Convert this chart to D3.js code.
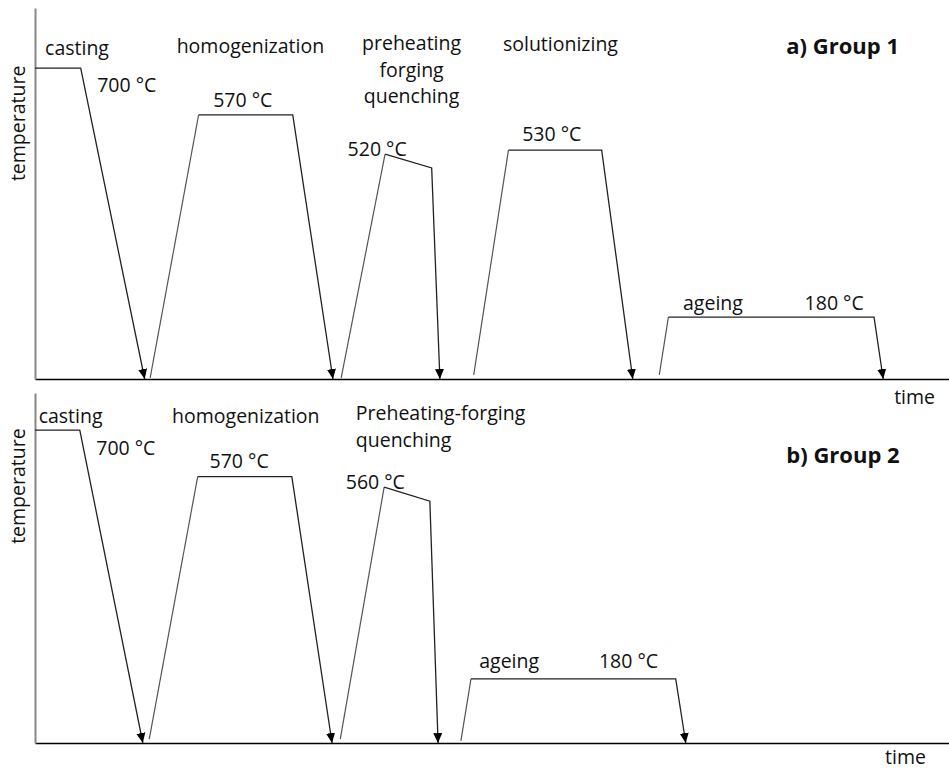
<!DOCTYPE html>
<html>
<head>
<meta charset="utf-8">
<script src="https://cdn.jsdelivr.net/npm/d3@7"></script>
<style>
  body { margin: 0; background: #fff; }
  svg text { font-family: "Open Sans", sans-serif; font-size: 19.5px; fill: #111; }
  .axis .domain { stroke-width: 1.6px; }
  .title { font-weight: bold; font-size: 22px; }
</style>
</head>
<body>
<div class="container"></div>
<script>
const w = 949;
const h = 771;

// process stages, time in arbitrary units (0-100), level = schematic height (0-100)
const g1Stages = ["casting", "homogenization", "preheating-forging-quenching", "solutionizing", "ageing"];
const g1Time = [
  [0, 5.0, 12.0],
  [12.6, 17.9, 28.2, 32.6],
  [33.5, 38.3, 43.4, 44.3],
  [48.0, 51.8, 62.0, 65.4],
  [68.3, 69.3, 91.8, 92.8]
];
const g1Level = [
  [83.8, 83.8, 0],
  [0.3, 71.2, 71.2, 0],
  [0.3, 60.6, 56.9, 0],
  [1.1, 61.7, 61.7, 0],
  [1.1, 16.7, 16.7, 0]
];

const g2Stages = ["casting", "homogenization", "Preheating-forging-quenching", "ageing"];
const g2Time = [
  [0, 4.9, 11.8],
  [12.5, 17.8, 28.1, 32.5],
  [33.4, 38.2, 43.2, 44.1],
  [46.6, 47.7, 70.1, 71.2]
];
const g2Level = [
  [89.4, 89.4, 0],
  [1.1, 76.1, 76.1, 0],
  [1.1, 73.1, 69.1, 0],
  [0.6, 18.3, 18.3, 0]
];

// annotation texts
const g1Labels = ["casting", "700 °C", "homogenization", "570 °C", "preheating", "forging", "quenching",
  "520 °C", "solutionizing", "530 °C", "ageing", "180 °C"];
const g2Labels = ["casting", "700 °C", "homogenization", "570 °C", "Preheating-forging", "quenching",
  "560 °C", "ageing", "180 °C"];
const titles = ["a) Group 1", "b) Group 2"];
const xTitle = "time";
const yTitle = "temperature";

// where the annotations sit, in the same time / level units
const g1LabelPos = [
  [1.1, 87.2, "start"], [6.8, 77.4, "start"], [15.5, 87.8, "start"], [19.5, 73.2, "start"],
  [41.2, 88.7, "middle"], [41.2, 81.5, "middle"], [41.2, 74.3, "middle"],
  [34.2, 60.1, "start"], [51.2, 88.4, "start"], [53.3, 64.2, "start"],
  [70.9, 18.6, "start"], [84.2, 18.6, "start"]
];
const g2LabelPos = [
  [0.4, 91.5, "start"], [6.7, 82.3, "start"], [15.0, 91.3, "start"], [19.1, 78.5, "start"],
  [35.1, 92.3, "start"], [35.1, 84.7, "start"],
  [34.0, 72.5, "start"], [48.6, 21.3, "start"], [61.7, 21.3, "start"]
];

const svg = d3.select('.container').append('svg')
  .attr('width', w)
  .attr('height', h);

svg.append('defs').append('marker')
  .attr('id', 'arrow')
  .attr('viewBox', '0 -5 10 10')
  .attr('refX', 10)
  .attr('refY', 0)
  .attr('markerUnits', 'userSpaceOnUse')
  .attr('markerWidth', 10)
  .attr('markerHeight', 10)
  .attr('orient', 'auto')
  .append('path')
  .attr('d', 'M0,-4.5L10,0L0,4.5Z')
  .attr('fill', '#000');

const x = d3.scaleLinear().domain([0, 100]).range([35, 949]);

const panels = [
  { time: g1Time, level: g1Level, labels: g1Labels, pos: g1LabelPos, title: titles[0],
    y: d3.scaleLinear().domain([0, 100]).range([379, 8]),
    titlePos: [82.2, 87.5], xTitlePos: [94.0, -6.7], yTitleLevel: 68.9 },
  { time: g2Time, level: g2Level, labels: g2Labels, pos: g2LabelPos, title: titles[1],
    y: d3.scaleLinear().domain([0, 100]).range([743, 393]),
    titlePos: [82.2, 79.9], xTitlePos: [93.0, -6.0], yTitleLevel: 73.4 }
];

panels.forEach(p => drawPanel(p));

function drawPanel(p) {
  const y = p.y;
  const g = svg.append('g');

  // axes without ticks
  g.append('g')
    .attr('class', 'axis')
    .attr('transform', `translate(0,${y(0)})`)
    .call(d3.axisBottom(x).tickValues([]).tickSizeOuter(0))
    .select('.domain').attr('stroke', '#000');

  g.append('g')
    .attr('class', 'axis')
    .attr('transform', `translate(${x(0)},0)`)
    .call(d3.axisLeft(y).tickValues([]).tickSizeOuter(0))
    .select('.domain').attr('stroke', '#888').style('stroke-width', '2px');

  const line = d3.line().x(d => x(d[0])).y(d => y(d[1]));

  p.time.forEach((ts, i) => {
    const pts = ts.map((t, j) => [t, p.level[i][j]]);
    let rest = pts;
    if (pts.length === 4) {
      g.append('path')
        .attr('d', line(pts.slice(0, 2)))
        .attr('fill', 'none')
        .attr('stroke', '#555')
        .attr('stroke-width', 1.2);
      rest = pts.slice(1);
    }
    g.append('path')
      .attr('d', line(rest))
      .attr('fill', 'none')
      .attr('stroke', '#222')
      .attr('stroke-width', 1.3)
      .attr('marker-end', 'url(#arrow)');
  });

  g.selectAll('text.label')
    .data(p.labels)
    .enter().append('text')
    .attr('class', 'label')
    .attr('x', (d, i) => x(p.pos[i][0]))
    .attr('y', (d, i) => y(p.pos[i][1]))
    .attr('text-anchor', (d, i) => p.pos[i][2])
    .text(d => d);

  g.append('text')
    .attr('class', 'title')
    .attr('x', x(p.titlePos[0]))
    .attr('y', y(p.titlePos[1]))
    .text(p.title);

  g.append('text')
    .attr('x', x(p.xTitlePos[0]))
    .attr('y', y(p.xTitlePos[1]))
    .text(xTitle);

  g.append('text')
    .attr('transform', `translate(25,${y(p.yTitleLevel)}) rotate(-90)`)
    .attr('text-anchor', 'middle')
    .text(yTitle);
}
</script>
</body>
</html>
